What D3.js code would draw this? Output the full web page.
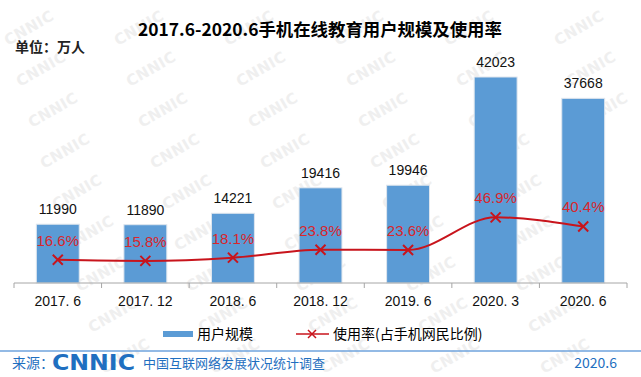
<!DOCTYPE html>
<html>
<head>
<meta charset="utf-8">
<script src="https://cdn.jsdelivr.net/npm/d3@7"></script>
<style>
  body { margin: 0; background: #fff; }
  svg { display: block; font-family: "Liberation Sans", Arial, sans-serif; }
</style>
</head>
<body>
<script>
const categories = ["2017. 6", "2017. 12", "2018. 6", "2018. 12", "2019. 6", "2020. 3", "2020. 6"];
const users = [11990, 11890, 14221, 19416, 19946, 42023, 37668];
const rates = [16.6, 15.8, 18.1, 23.8, 23.6, 46.9, 40.4];

const W = 641, H = 377;
const cjk = "'Noto Sans CJK SC', 'Noto Sans', sans-serif";
const blue = "#5b9bd5";
const red = "#c8141c";

const svg = d3.select("body")
    .append("svg")
    .attr("width", W)
    .attr("height", H);

// faint watermark tiles, kept inside the picture
const wm = svg.append("g").attr("fill", "#efefef").attr("font-family", "DejaVu Sans")
    .attr("font-weight", "bold").attr("font-size", 15);
for (let r = 0; r < 9; r++) {
    for (let c = -1; c < 7; c++) {
        const x = c * 110 + (r * 12) % 110 + 8;
        const y = r * 41 + 46;
        if (x < 2 || x + 58 > W || y > H - 3) continue;
        wm.append("text")
            .attr("transform", `translate(${x},${y}) rotate(-30)`)
            .attr("textLength", 54)
            .text("CNNIC");
    }
}

const x = d3.scaleBand()
    .domain(categories)
    .range([14, 627])
    .paddingInner(0.51)
    .paddingOuter(0.255);

const y = d3.scaleLinear().domain([0, 42023]).range([283, 77]);
const yr = d3.scaleLinear().domain([0, 100]).range([283, 143]);

// title
svg.append("text")
    .attr("x", 320).attr("y", 36)
    .attr("text-anchor", "middle")
    .attr("font-family", cjk)
    .attr("font-weight", "bold")
    .attr("font-size", 17.4)
    .text("2017.6-2020.6手机在线教育用户规模及使用率");

svg.append("text")
    .attr("x", 15).attr("y", 52)
    .attr("font-family", cjk)
    .attr("font-weight", "bold")
    .attr("font-size", 14)
    .attr("fill", "#222")
    .text("单位：万人");

// bars
svg.append("g").selectAll("rect")
    .data(users)
    .join("rect")
    .attr("x", (d, i) => x(categories[i]))
    .attr("y", d => y(d))
    .attr("width", x.bandwidth())
    .attr("height", d => y(0) - y(d))
    .attr("fill", blue)
    .attr("stroke", "#dfe6ee")
    .attr("stroke-width", 1);

svg.append("g").selectAll("text")
    .data(users)
    .join("text")
    .attr("x", (d, i) => x(categories[i]) + x.bandwidth() / 2)
    .attr("y", d => y(d) - 10)
    .attr("text-anchor", "middle")
    .attr("font-size", 14)
    .attr("fill", "#111")
    .text(d => d);

// axis
const axis = svg.append("g")
    .attr("transform", `translate(0,${y(0)})`);
axis.append("line")
    .attr("x1", 14).attr("x2", 627)
    .attr("stroke", "#a6a6a6");
const bounds = categories.map(c => x(c) - x.step() * x.paddingInner() / 2).concat([627]);
axis.selectAll(".tk")
    .data(bounds)
    .join("line")
    .attr("x1", d => d).attr("x2", d => d)
    .attr("y1", 0).attr("y2", 5)
    .attr("stroke", "#a6a6a6");
axis.selectAll(".lb")
    .data(categories)
    .join("text")
    .attr("x", d => x(d) + x.bandwidth() / 2)
    .attr("y", 23)
    .attr("text-anchor", "middle")
    .attr("font-size", 14)
    .attr("fill", "#111")
    .text(d => d);

// rate line
const pts = rates.map((d, i) => [x(categories[i]) + x.bandwidth() / 2, yr(d)]);
svg.append("path")
    .attr("d", d3.line().curve(d3.curveMonotoneX)(pts))
    .attr("fill", "none")
    .attr("stroke", red)
    .attr("stroke-width", 2);

const m = 5;
svg.append("g").selectAll("path")
    .data(pts)
    .join("path")
    .attr("d", p => `M${p[0] - m},${p[1] - m}L${p[0] + m},${p[1] + m}M${p[0] - m},${p[1] + m}L${p[0] + m},${p[1] - m}`)
    .attr("stroke", red)
    .attr("stroke-width", 2);

svg.append("g").selectAll("text")
    .data(rates)
    .join("text")
    .attr("x", (d, i) => pts[i][0])
    .attr("y", (d, i) => pts[i][1] - 14)
    .attr("text-anchor", "middle")
    .attr("font-size", 15)
    .attr("fill", "#d9262c")
    .text(d => d.toFixed(1) + "%");

// legend
const lg = svg.append("g");
lg.append("rect").attr("x", 163).attr("y", 331).attr("width", 30).attr("height", 6).attr("fill", blue);
lg.append("text").attr("x", 197).attr("y", 339).attr("font-family", cjk).attr("font-size", 14)
    .text("用户规模");
lg.append("line").attr("x1", 296).attr("x2", 329).attr("y1", 334).attr("y2", 334)
    .attr("stroke", red).attr("stroke-width", 1.5);
lg.append("path").attr("d", "M308,330L316,338M308,338L316,330").attr("stroke", red).attr("stroke-width", 1.5);
lg.append("text").attr("x", 333).attr("y", 339).attr("font-family", cjk).attr("font-size", 14)
    .text("使用率(占手机网民比例)");

// footer
svg.append("line").attr("x1", 0).attr("x2", W).attr("y1", 351).attr("y2", 351)
    .attr("stroke", "#6fa3dc").attr("stroke-width", 1.5);
const fc = "#1f6fc0";
svg.append("text").attr("x", 12).attr("y", 368).attr("font-family", cjk).attr("font-size", 14)
    .attr("fill", fc).text("来源：");
svg.append("text").attr("x", 52).attr("y", 370).attr("font-family", "DejaVu Sans")
    .attr("font-weight", "bold").attr("font-size", 21).attr("fill", fc)
    .attr("textLength", 83).attr("lengthAdjust", "spacingAndGlyphs").text("CNNIC");
svg.append("text").attr("x", 143).attr("y", 368).attr("font-family", cjk).attr("font-size", 13)
    .attr("fill", fc).text("中国互联网络发展状况统计调查");
svg.append("text").attr("x", 617).attr("y", 368).attr("text-anchor", "end").attr("font-family", cjk)
    .attr("font-size", 14).attr("fill", fc).text("2020.6");
</script>
</body>
</html>
